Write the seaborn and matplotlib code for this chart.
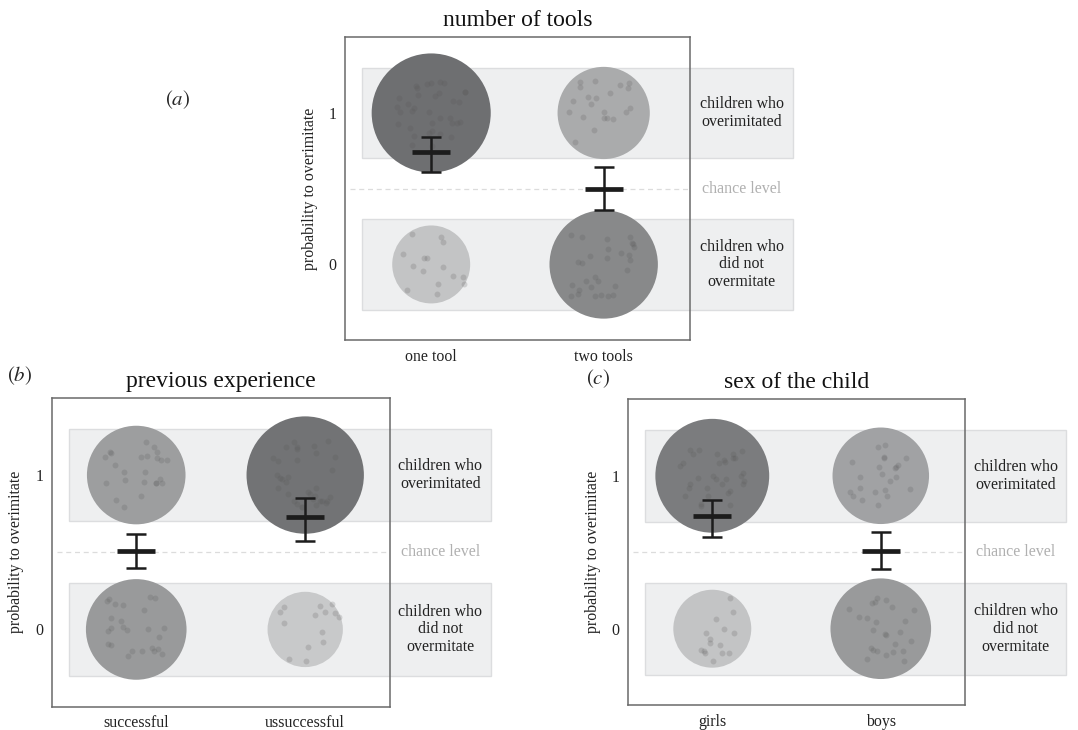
import numpy as np
import pandas as pd
import matplotlib
matplotlib.use('Agg')
import matplotlib.pyplot as plt
from matplotlib.patches import Rectangle
from matplotlib.colors import LinearSegmentedColormap
import seaborn as sns

# panel (a) number of tools
conds_a = ['one tool', 'two tools']
over_a = [35, 21]
not_a = [15, 29]
mean_a = [0.74, 0.50]
lo_a = [0.61, 0.36]
hi_a = [0.84, 0.64]

# panel (b) previous experience
conds_b = ['successful', 'ussuccessful']
over_b = [24, 34]
not_b = [25, 14]
mean_b = [0.51, 0.73]
lo_b = [0.40, 0.57]
hi_b = [0.62, 0.85]

# panel (c) sex of the child
conds_c = ['girls', 'boys']
over_c = [32, 23]
not_c = [15, 25]
mean_c = [0.74, 0.51]
lo_c = [0.60, 0.39]
hi_c = [0.84, 0.63]

sns.set_theme(style='white')
plt.rcParams['font.family'] = ['Liberation Serif', 'DejaVu Serif']
plt.rcParams['mathtext.fontset'] = 'stix'

grey_cmap = LinearSegmentedColormap.from_list('greys', ['#d0d1d2', '#6a6b6d'])
rng = np.random.default_rng(7)


def draw_panel(ax, conds, n_over, n_not, mean, lo, hi, title):
    pos = list(range(len(conds)))
    circles = pd.DataFrame({
        'pos': pos * 2,
        'outcome': [1] * len(conds) + [0] * len(conds),
        'n': list(n_over) + list(n_not),
    })

    # grey bands behind the two outcomes, reaching into the right margin
    for yc in (0, 1):
        ax.add_patch(Rectangle((-0.4, yc - 0.3), 2.5, 0.6, facecolor='#eeeff0',
                               edgecolor='#dcdddf', lw=1, clip_on=False, zorder=0))
    ax.plot([-0.47, 1.5], [0.5, 0.5], ls=(0, (4, 3)), color='#dcdcdc', lw=0.9, zorder=1)

    sns.scatterplot(data=circles, x='pos', y='outcome', size='n', sizes=(0, 10500),
                    size_norm=(0, 50), hue='n', palette=grey_cmap, hue_norm=(12, 36),
                    linewidth=0, legend=False, ax=ax, zorder=2)

    # one dot per child, jittered like geom_jitter
    kids = pd.DataFrame({
        'pos': np.repeat(circles['pos'].values, circles['n'].values),
        'outcome': np.repeat(circles['outcome'].values, circles['n'].values),
    })
    kids['xj'] = kids['pos'] + rng.uniform(-0.2, 0.2, len(kids))
    kids['yj'] = kids['outcome'] + rng.uniform(-0.22, 0.22, len(kids))
    sns.scatterplot(data=kids, x='xj', y='yj', color='#555555', alpha=0.2, s=18,
                    linewidth=0, legend=False, ax=ax, zorder=3)

    mean = np.array(mean)
    ax.errorbar(pos, mean, yerr=[mean - np.array(lo), np.array(hi) - mean], fmt='none',
                ecolor='#1c1c1c', elinewidth=1.8, capsize=7.5, capthick=1.8, zorder=4)
    ax.plot(pos, mean, ls='none', marker='_', ms=27, mew=3.4, color='#1c1c1c', zorder=5)

    ax.text(1.8, 1, 'children who\noverimitated', ha='center', va='center', fontsize=11.5,
            linespacing=1.2, color='#222222', clip_on=False)
    ax.text(1.8, 0.5, 'chance level', ha='center', va='center', fontsize=11.5,
            color='#b0b0b0', clip_on=False)
    ax.text(1.8, 0, 'children who\ndid not\novermitate', ha='center', va='center', fontsize=11.5,
            linespacing=1.15, color='#222222', clip_on=False)

    ax.set_xlim(-0.5, 1.5)
    ax.set_ylim(-0.5, 1.5)
    ax.set_xticks(pos)
    ax.set_xticklabels(conds)
    ax.set_yticks([0, 1])
    ax.set_xlabel('')
    ax.set_ylabel('probability to overimitate', fontsize=11.4, color='#222222', labelpad=8)
    ax.set_title(title, fontsize=17, color='#111111', pad=8)
    ax.tick_params(axis='both', direction='out', length=3, width=0.8, color='#555555',
                   labelsize=11.4, labelcolor='#222222', pad=3)
    for sp in ax.spines.values():
        sp.set_visible(True)
        sp.set_color('#6a6a6a')
        sp.set_linewidth(1.1)


fig = plt.figure(figsize=(10.78, 7.30), dpi=100)
ax_a = fig.add_axes([0.320, 0.534, 0.320, 0.415])
ax_b = fig.add_axes([0.048, 0.032, 0.3135, 0.423])
ax_c = fig.add_axes([0.5826, 0.034, 0.3126, 0.419])

draw_panel(ax_a, conds_a, over_a, not_a, mean_a, lo_a, hi_a, 'number of tools')
draw_panel(ax_b, conds_b, over_b, not_b, mean_b, lo_b, hi_b, 'previous experience')
draw_panel(ax_c, conds_c, over_c, not_c, mean_c, lo_c, hi_c, 'sex of the child')

fig.text(178 / 1078, 1 - 100 / 730, r'$(\mathit{a})$', ha='center', va='center', fontsize=15)
fig.text(20 / 1078, 1 - 376 / 730, r'$(\mathit{b})$', ha='center', va='center', fontsize=15)
fig.text(598 / 1078, 1 - 379 / 730, r'$(\mathit{c})$', ha='center', va='center', fontsize=15)

fig.savefig('out.png', dpi=100)
